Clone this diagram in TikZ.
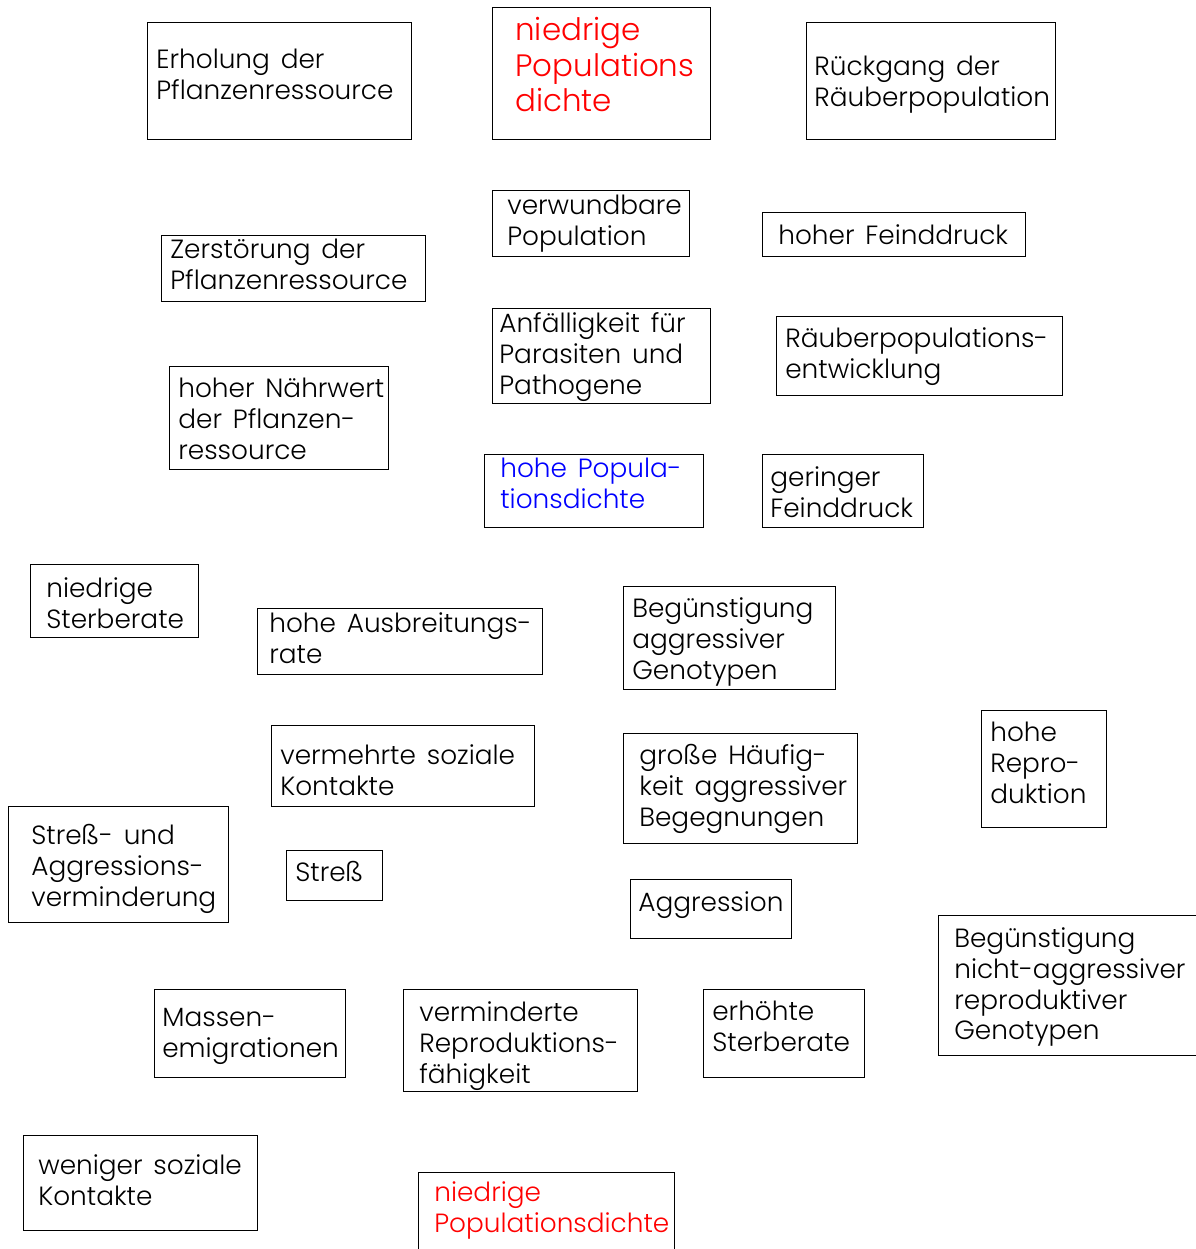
\documentclass[tikz,border=0pt]{standalone}
\usepackage{fontspec}
\setmainfont{Poppins}[UprightFont=* Light,WordSpace=1.5]
\usepackage{tikz}

\newcommand{\lblfont}{\fontsize{15pt}{17.6pt}\selectfont}
\newcommand{\bigfont}{\fontsize{17.6pt}{20.2pt}\selectfont}

\tikzset{
  box/.style={draw=black,line width=0.55pt},
  lbl/.style={anchor=north west,inner sep=0pt,align=left,font=\lblfont}
}

\begin{document}
\begin{tikzpicture}[x=0.02cm,y=-0.02cm]
\fill[white] (0,0) rectangle (1196,1249);
\useasboundingbox (0,0) rectangle (1196,1249);
% Top row
\draw[box] (147,22) rectangle (411,139);
\node[lbl] (erholung) at (156,49) {Erholung der\\Pflanzenressource};
\draw[box] (492,7) rectangle (710,139);
\node[lbl,font=\bigfont,text=red] (niedrigOben) at (515,17) {niedrige\\Populations\\dichte};
\draw[box] (806,22) rectangle (1055,139);
\node[lbl] (rueckgang) at (814,56) {Rückgang der\\Räuberpopulation};
% Second block
\draw[box] (492,190) rectangle (689,256);
\node[lbl] (verwundbar) at (507,195) {verwundbare\\Population};
\draw[box] (762,212) rectangle (1025,256);
\node[lbl] (feinddruck) at (778,224) {hoher Feinddruck};
\draw[box] (161,235) rectangle (425,301);
\node[lbl] (zerstoerung) at (170,239) {Zerstörung der\\Pflanzenressource};
\draw[box] (492,308) rectangle (710,403);
\node[lbl] (anfaellig) at (499,312) {Anfälligkeit für\\Parasiten und\\Pathogene};
\draw[box] (776,316) rectangle (1062,395);
\node[lbl] (raeuber) at (785,327) {Räuberpopulations-\\entwicklung};
\draw[box] (169,366) rectangle (388,469);
\node[lbl] (naehrwert) at (178,378) {hoher Nährwert\\der Pflanzen-\\ressource};
\draw[box] (484,454) rectangle (703,527);
\node[lbl,text=blue] (hoheDichte) at (500,458) {hohe Popula-\\tionsdichte};
\draw[box] (762,454) rectangle (923,527);
\node[lbl] (geringFeind) at (770,466) {geringer\\Feinddruck};
% Middle block
\draw[box] (30,564) rectangle (198,637);
\node[lbl] (niedrigSterbe) at (46,577) {niedrige\\Sterberate};
\draw[box] (257,608) rectangle (542,674);
\node[lbl] (ausbreitung) at (269,612) {hohe Ausbreitungs-\\rate};
\draw[box] (623,586) rectangle (835,689);
\node[lbl] (aggrGeno) at (632,597) {Begünstigung\\aggressiver\\Genotypen};
\draw[box] (271,725) rectangle (534,806);
\node[lbl] (kontakte) at (280,744) {vermehrte soziale\\Kontakte};
\draw[box] (623,733) rectangle (857,843);
\node[lbl] (haeufig) at (639,744) {große Häufig-\\keit aggressiver\\Begegnungen};
\draw[box] (981,710) rectangle (1106,827);
\node[lbl] (repro) at (990,722) {hohe\\Repro-\\duktion};
\draw[box] (8,806) rectangle (228,922);
\node[lbl] (stressMind) at (31,824) {Streß- und\\Aggressions-\\verminderung};
\draw[box] (286,850) rectangle (382,900);
\node[lbl] (stress) at (295,861) {Streß};
\draw[box] (630,879) rectangle (791,938);
\node[lbl] (aggression) at (638,891) {Aggression};
\draw[box] (1196,915) -- (938,915) -- (938,1055) -- (1196,1055);
\node[lbl] (nichtAggr) at (954,927) {Begünstigung\\nicht-aggressiver\\reproduktiver\\Genotypen};
% Bottom block
\draw[box] (154,989) rectangle (345,1077);
\node[lbl] (emigration) at (162,1008) {Massen-\\emigrationen};
\draw[box] (403,989) rectangle (637,1091);
\node[lbl] (vermRepro) at (419,1001) {verminderte\\Reproduktions-\\fähigkeit};
\draw[box] (703,989) rectangle (864,1077);
\node[lbl] (sterberate) at (712,1001) {erhöhte\\Sterberate};
\draw[box] (23,1135) rectangle (257,1230);
\node[lbl] (wenigKontakte) at (38,1154) {weniger soziale\\Kontakte};
\draw[box] (418,1249) -- (418,1172) -- (674,1172) -- (674,1249);
\node[lbl,text=red] (niedrigUnten) at (434,1181) {niedrige\\Populationsdichte};
\end{tikzpicture}
\end{document}
